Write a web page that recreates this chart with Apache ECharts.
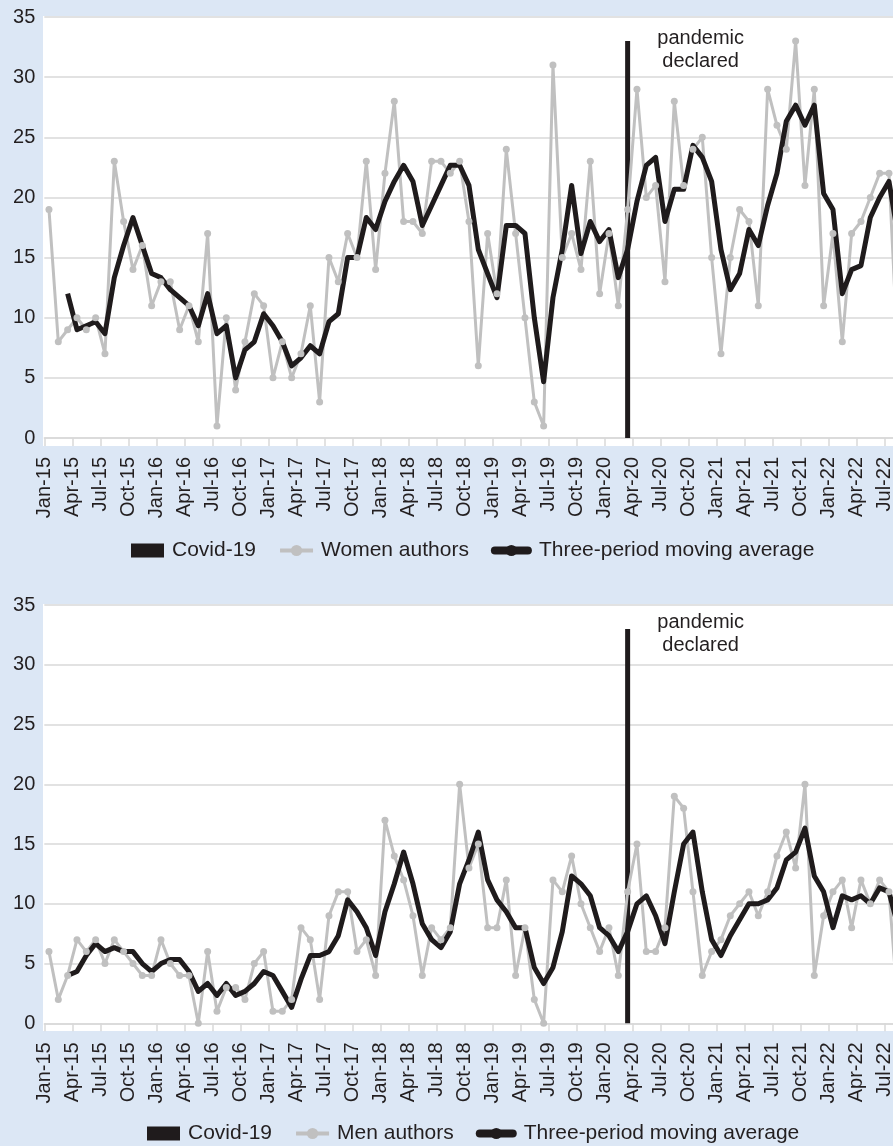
<!DOCTYPE html>
<html>
<head>
<meta charset="UTF-8">
<title>Women and men authors</title>
<script src="https://cdn.jsdelivr.net/npm/echarts@6/dist/echarts.min.js"></script>
<style>
  html, body { margin: 0; padding: 0; background: #dce7f5; overflow: hidden; }
  #chart { width: 960px; height: 1146px; }
</style>
</head>
<body>
<div id="chart"></div>
<script>
// monthly categories Jan-15 .. Dec-22 (+ the closing boundary Jan-23 for tick labels)
var monthNames = ['Jan','Feb','Mar','Apr','May','Jun','Jul','Aug','Sep','Oct','Nov','Dec'];
var years = ['15','16','17','18','19','20','21','22'];
var months = [];
years.forEach(function (y) { monthNames.forEach(function (m) { months.push(m + '-' + y); }); });
var edgeLabels = months.concat(['Jan-23']);

var covidMonth = 'Mar-20';
var covidValue = 33;

var women = [19,8,9,10,9,10,7,23,18,14,
  16,11,13,13,9,11,8,17,1,10,
  4,8,12,11,5,8,5,7,11,3,
  15,13,17,15,23,14,22,28,18,18,
  17,23,23,22,23,18,6,17,12,24,
  17,10,3,1,31,15,17,14,23,12,
  17,11,19,29,20,21,13,28,21,24,
  25,15,7,15,19,18,11,29,26,24,
  33,21,29,11,17,8,17,18,20,22,
  22,6];
var womenMA = [null,null,12,9,9.33,9.67,8.67,13.33,16,18.33,
  16,13.67,13.33,12.33,11.67,11,9.33,12,8.67,9.33,
  5,7.33,8,10.33,9.33,8,6,6.67,7.67,7,
  9.67,10.33,15,15,18.33,17.33,19.67,21.33,22.67,21.33,
  17.67,19.33,21,22.67,22.67,21,15.67,13.67,11.67,17.67,
  17.67,17,10,4.67,11.67,15.67,21,15.33,18,16.33,
  17.33,13.33,15.67,19.67,22.67,23.33,18,20.67,20.67,24.33,
  23.33,21.33,15.67,12.33,13.67,17.33,16,19.33,22,26.33,
  27.67,26,27.67,20.33,19,12,14,14.33,18.33,20,
  21.33,16.67];

var men = [6,2,4,7,6,7,5,7,6,5,
  4,4,7,5,4,4,0,6,1,3,
  3,2,5,6,1,1,2,8,7,2,
  9,11,11,6,7,4,17,14,12,9,
  4,8,7,8,20,13,15,8,8,12,
  4,8,2,0,12,11,14,10,8,6,
  8,4,11,15,6,6,8,19,18,11,
  4,6,7,9,10,11,9,11,14,16,
  13,20,4,9,11,12,8,12,10,12,
  11,1];
var menMA = [null,null,4,4.33,5.67,6.67,6,6.33,6,6,
  5,4.33,5,5.33,5.33,4.33,2.67,3.33,2.33,3.33,
  2.33,2.67,3.33,4.33,4,2.67,1.33,3.67,5.67,5.67,
  6,7.33,10.33,9.33,8,5.67,9.33,11.67,14.33,11.67,
  8.33,7,6.33,7.67,11.67,13.67,16,12,10.33,9.33,
  8,8,4.67,3.33,4.67,7.67,12.33,11.67,10.67,8,
  7.33,6,7.67,10,10.67,9,6.67,11,15,16,
  11,7,5.67,7.33,8.67,10,10,10.33,11.33,13.67,
  14.33,16.33,12.33,11,8,10.67,10.33,10.67,10,11.33,
  11,8];

var FONT = '"Liberation Sans", Arial, Helvetica, sans-serif';
var TEXT = '#231f20';
var GRID = '#d9d9d9';
var DARK = '#1f1b1c';
var GREY = '#c0c0c0';

function covidData(offsetY) {
  return months.map(function (m) {
    if (m !== covidMonth) return null;
    return {
      value: covidValue,
      label: {
        show: true, position: 'top', distance: 5, offset: [73, offsetY],
        formatter: 'pandemic\ndeclared', fontSize: 20, lineHeight: 23,
        color: TEXT, fontFamily: FONT
      }
    };
  });
}

function labelAxis(gi) {
  return {
    gridIndex: gi, type: 'category', data: edgeLabels, boundaryGap: false,
    position: 'bottom', offset: 0,
    axisLine: { show: true, lineStyle: { color: GRID, width: 1.5 } },
    axisTick: { show: true, interval: 2, length: 8, lineStyle: { color: GRID, width: 1.5 } },
    axisLabel: { interval: 2, rotate: 90, margin: 19, fontSize: 20, color: TEXT, fontFamily: FONT },
    splitLine: { show: false }
  };
}

function valueAxis(gi) {
  return {
    gridIndex: gi, type: 'value', min: 0, max: 35, interval: 5,
    axisLine: { show: false }, axisTick: { show: false },
    axisLabel: { fontSize: 20, color: TEXT, fontFamily: FONT, margin: 9 },
    splitLine: { lineStyle: { color: GRID, width: 1.5 } }
  };
}

function legendFor(left, top, name) {
  return {
    left: left, top: top, padding: 0, itemWidth: 33, itemHeight: 14, itemGap: 22,
    textStyle: { fontSize: 21, color: TEXT, fontFamily: FONT, padding: [0, 0, 0, 3] },
    data: [
      { name: 'Covid-19', icon: 'rect' },
      { name: name, lineStyle: { width: 4 } },
      { name: 'Three-period moving average', lineStyle: { width: 8, cap: 'round' },
        textStyle: { padding: [0, 0, 0, 6] } }
    ]
  };
}

var chart = echarts.init(document.getElementById('chart'));
var option = {
  animation: false,
  backgroundColor: '#dce7f5',
  graphic: [
    { type: 'rect', z: -10, shape: { x: 43, y: 16, width: 920, height: 430 }, style: { fill: '#fff' } },
    { type: 'rect', z: -10, shape: { x: 43, y: 604, width: 920, height: 427 }, style: { fill: '#fff' } }
  ],
  grid: [
    { left: 44.3, width: 896, top: 17, height: 421, outerBoundsMode: 'none', containLabel: false },
    { left: 44.3, width: 896, top: 605, height: 418.3, outerBoundsMode: 'none', containLabel: false }
  ],
  legend: [
    legendFor(131, 540, 'Women authors'),
    legendFor(147, 1123, 'Men authors')
  ],
  xAxis: [
    { gridIndex: 0, type: 'category', data: months, boundaryGap: true, show: false, position: 'bottom' },
    labelAxis(0),
    { gridIndex: 1, type: 'category', data: months, boundaryGap: true, show: false, position: 'bottom' },
    labelAxis(1)
  ],
  yAxis: [valueAxis(0), valueAxis(1)],
  series: [
    { name: 'Covid-19', type: 'bar', xAxisIndex: 0, yAxisIndex: 0, barWidth: 5,
      itemStyle: { color: DARK }, data: covidData(37) },
    { name: 'Women authors', type: 'line', xAxisIndex: 0, yAxisIndex: 0, data: women,
      symbol: 'circle', symbolSize: 7, showAllSymbol: true, itemStyle: { color: GREY },
      lineStyle: { color: GREY, width: 3 } },
    { name: 'Three-period moving average', type: 'line', xAxisIndex: 0, yAxisIndex: 0, data: womenMA,
      symbol: 'none', itemStyle: { color: DARK },
      lineStyle: { color: DARK, width: 5, join: 'round' } },
    { name: 'Covid-19', type: 'bar', xAxisIndex: 2, yAxisIndex: 1, barWidth: 5,
      itemStyle: { color: DARK }, data: covidData(33) },
    { name: 'Men authors', type: 'line', xAxisIndex: 2, yAxisIndex: 1, data: men,
      symbol: 'circle', symbolSize: 7, showAllSymbol: true, itemStyle: { color: GREY },
      lineStyle: { color: GREY, width: 3 } },
    { name: 'Three-period moving average', type: 'line', xAxisIndex: 2, yAxisIndex: 1, data: menMA,
      symbol: 'none', itemStyle: { color: DARK },
      lineStyle: { color: DARK, width: 5, join: 'round' } }
  ]
};
chart.setOption(option);
</script>
</body>
</html>
